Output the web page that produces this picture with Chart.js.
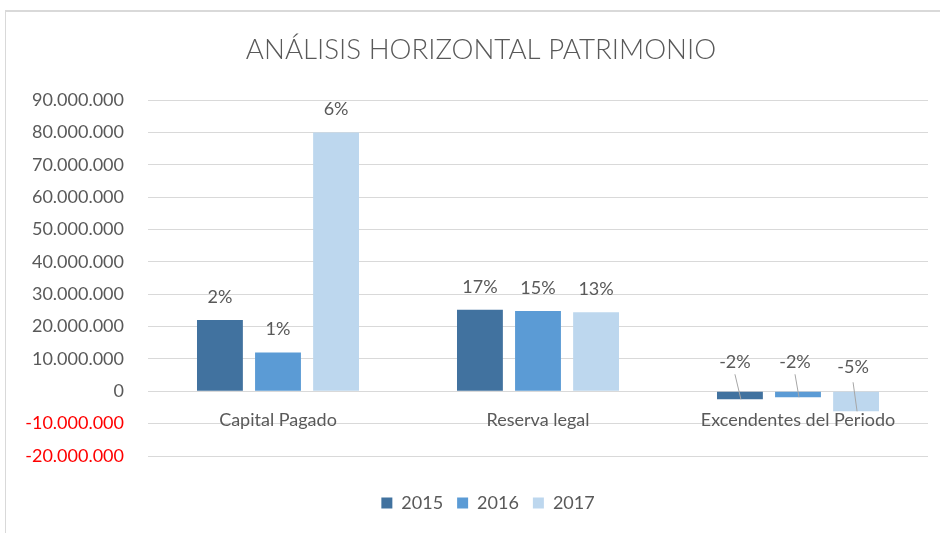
<!DOCTYPE html>
<html>
<head>
<meta charset="utf-8">
<script src="https://cdn.jsdelivr.net/npm/chart.js@4/dist/chart.umd.min.js"></script>
<style>
  html, body { margin: 0; padding: 0; background: #fff; }
  #wrap { position: relative; width: 940px; height: 533px; overflow: hidden; }
  #frame { position: absolute; left: 5px; top: 10px; width: 960px; height: 560px; border: 1px solid #d9d9d9; border-top-width: 2px; box-sizing: border-box; }
  #wrap canvas { position: absolute; left: 0; top: 0; }
</style>
</head>
<body>
<div id="wrap">
  <div id="frame"></div>
  <canvas id="c" width="940" height="533"></canvas>
</div>
<script>
// --- DATA ---
const categories = ['Capital Pagado', 'Reserva legal', 'Excendentes del Periodo'];
const years = ['2015', '2016', '2017'];
const values2015 = [22000000, 25200000, -2500000];
const values2016 = [12000000, 24800000, -1850000];
const values2017 = [80000000, 24400000, -6200000];
const pct2015 = ['2%', '17%', '-2%'];
const pct2016 = ['1%', '15%', '-2%'];
const pct2017 = ['6%', '13%', '-5%'];
const colors = ['#41729f', '#5b9bd5', '#bdd7ee'];

const FONT = 'Lato, "Open Sans", sans-serif';
const GRAY = '#595959';

const fmt = v => {
  const s = Math.abs(v).toString().replace(/\B(?=(\d{3})+(?!\d))/g, '.');
  return (v < 0 ? '-' : '') + s;
};

// nudge a layout box when it draws (title / legend are a bit off-centre in the original)
const shiftDraw = (box, dx, dy) => {
  const draw = box.draw;
  box.draw = function (...args) {
    this.ctx.save();
    this.ctx.translate(dx, dy);
    draw.apply(this, args);
    this.ctx.restore();
  };
};

const boxTweaks = {
  id: 'boxTweaks',
  afterInit(chart) {
    if (chart.titleBlock) shiftDraw(chart.titleBlock, 17, 0);
    const lg = chart.legend;
    if (lg) {
      const fit = lg.fit;
      lg.fit = function () { fit.call(this); this.height += 35; };
      shiftDraw(lg, 24, 24);
    }
  }
};

// --- percentage labels over the bars, leader lines for the negatives ---
const pctLabels = {
  id: 'pctLabels',
  afterDatasetsDraw(chart) {
    const ctx = chart.ctx;
    const zeroY = chart.scales.y.getPixelForValue(0);
    ctx.save();
    ctx.font = '18px ' + FONT;
    ctx.textAlign = 'center';
    ctx.textBaseline = 'middle';
    chart.data.datasets.forEach((ds, di) => {
      chart.getDatasetMeta(di).data.forEach((bar, i) => {
        const txt = ds.pct[i];
        ctx.fillStyle = GRAY;
        if (ds.data[i] >= 0) {
          ctx.fillText(txt, bar.x, bar.y - 23);
        } else {
          const lx = bar.x - (di === 0 ? 5 : 3);
          const ly = zeroY - (di === 2 ? 24 : 29);
          ctx.strokeStyle = '#a6a6a6';
          ctx.lineWidth = 1;
          ctx.beginPath();
          ctx.moveTo(lx, ly + (di === 2 ? 15 : 12));
          ctx.lineTo(bar.x + 1, bar.y);
          ctx.stroke();
          ctx.fillText(txt, lx, ly);
        }
      });
    });
    ctx.restore();
  }
};

const datasets = [values2015, values2016, values2017].map((vals, k) => ({
  label: years[k],
  data: vals,
  pct: [pct2015, pct2016, pct2017][k],
  backgroundColor: colors[k],
  barPercentage: 0.79,
  categoryPercentage: 0.67
}));

new Chart(document.getElementById('c'), {
  type: 'bar',
  data: { labels: categories, datasets },
  options: {
    responsive: false,
    animation: false,
    layout: { padding: { left: 0, right: 12, top: 0, bottom: 0 } },
    plugins: {
      title: {
        display: true,
        text: 'ANÁLISIS HORIZONTAL PATRIMONIO',
        color: GRAY,
        font: { family: FONT, size: 27.7, weight: '300' },
        padding: { top: 33.4, bottom: 33.4 }
      },
      legend: {
        position: 'bottom',
        labels: {
          color: GRAY,
          font: { family: FONT, size: 18 },
          boxWidth: 11, boxHeight: 11,
          padding: 14
        }
      },
      tooltip: { enabled: false }
    },
    scales: {
      x: {
        position: { y: 0 },
        grid: { display: false },
        border: { display: false },
        ticks: { color: GRAY, font: { family: FONT, size: 18 }, padding: 10 }
      },
      y: {
        min: -20000000,
        max: 90000000,
        afterFit(scale) { scale.width = 148; },
        grid: { color: '#d9d9d9', drawTicks: false },
        border: { display: false },
        ticks: {
          stepSize: 10000000,
          padding: 24,
          color: c => c.tick.value < 0 ? '#ff0000' : GRAY,
          font: { family: FONT, size: 18 },
          callback: v => fmt(v)
        }
      }
    }
  },
  plugins: [boxTweaks, pctLabels]
});
</script>
</body>
</html>
